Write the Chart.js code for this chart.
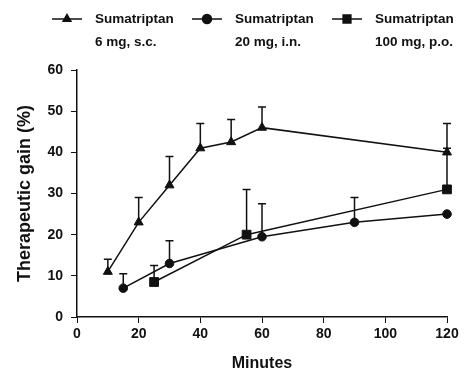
<!DOCTYPE html>
<html>
<head>
<meta charset="utf-8">
<script src="https://cdn.jsdelivr.net/npm/chart.js@4/dist/chart.umd.min.js"></script>
<style>
  html, body { margin: 0; padding: 0; background: #fff; }
  #wrap { width: 474px; height: 379px; }
</style>
</head>
<body>
<div id="wrap"><canvas id="gainChart" width="474" height="379"></canvas></div>
<script>
// Values (minutes vs therapeutic gain %)
const scMinutes = [10, 20, 30, 40, 50, 60, 120];
const scGain = [11, 23, 32, 41, 42.5, 46, 40];
const scUpper = [14, 29, 39, 47, 48, 51, 47];

const inMinutes = [15, 30, 60, 90, 120];
const inGain = [7, 13, 19.5, 23, 25];
const inUpper = [10.5, 18.5, 27.5, 29, null];

const poMinutes = [25, 55, 120];
const poGain = [8.5, 20, 31];
const poUpper = [12.5, 31, 41];

const seriesLabels = [
  ["Sumatriptan", "6 mg, s.c."],
  ["Sumatriptan", "20 mg, i.n."],
  ["Sumatriptan", "100 mg, p.o."],
];
const markerStyles = ["triangle", "circle", "rect"];

const FONT = "'Liberation Sans', Arial, sans-serif";
const INK = "#111";

const toPoints = (xs, ys) => xs.map((x, i) => ({ x: x, y: ys[i] }));

const makeSet = (label, xs, ys, upper, style, radius) => ({
  label: label.join(" "),
  data: toPoints(xs, ys),
  upper: upper,
  borderColor: INK,
  backgroundColor: INK,
  borderWidth: 1.5,
  pointStyle: style,
  pointRadius: radius,
  pointHoverRadius: radius,
  pointBorderWidth: 1,
  fill: false,
  tension: 0,
  clip: false,
});

// upward error bars with a cap
const errorBars = {
  id: "errorBars",
  beforeDatasetsDraw(chart) {
    const ctx = chart.ctx;
    const ys = chart.scales.y;
    const xs = chart.scales.x;
    ctx.save();
    ctx.strokeStyle = INK;
    ctx.lineWidth = 1.5;
    chart.data.datasets.forEach((ds) => {
      ds.data.forEach((p, i) => {
        const top = ds.upper[i];
        if (top == null) return;
        const px = xs.getPixelForValue(p.x);
        const py = ys.getPixelForValue(p.y);
        const pt = ys.getPixelForValue(top);
        ctx.beginPath();
        ctx.moveTo(px, py);
        ctx.lineTo(px, pt);
        ctx.moveTo(px - 4, pt);
        ctx.lineTo(px + 4, pt);
        ctx.stroke();
      });
    });
    ctx.restore();
  },
};

// two-line legend across the top
const topLegend = {
  id: "topLegend",
  afterDraw(chart) {
    const ctx = chart.ctx;
    const starts = [52, 192, 332];
    const sizes = [4.5, 4.5, 5.5];
    ctx.save();
    starts.forEach((x0, i) => {
      const y = 19;
      ctx.strokeStyle = INK;
      ctx.lineWidth = 1.5;
      ctx.beginPath();
      ctx.moveTo(x0, y);
      ctx.lineTo(x0 + 30, y);
      ctx.stroke();
      ctx.fillStyle = INK;
      Chart.helpers.drawPoint(ctx, {
        pointStyle: markerStyles[i],
        radius: sizes[i],
        borderWidth: 1,
      }, x0 + 15, y);
      ctx.fill();
      ctx.font = "bold 13.5px " + FONT;
      ctx.textBaseline = "middle";
      ctx.textAlign = "left";
      ctx.fillText(seriesLabels[i][0], x0 + 43, y);
      ctx.fillText(seriesLabels[i][1], x0 + 43, y + 23);
    });
    ctx.restore();
  },
};

new Chart(document.getElementById("gainChart").getContext("2d"), {
  type: "line",
  data: {
    datasets: [
      makeSet(seriesLabels[0], scMinutes, scGain, scUpper, "triangle", 5.2),
      makeSet(seriesLabels[1], inMinutes, inGain, inUpper, "circle", 4.3),
      makeSet(seriesLabels[2], poMinutes, poGain, poUpper, "rect", 6.2),
    ],
  },
  options: {
    responsive: false,
    animation: false,
    layout: { padding: { top: 70, right: 27, left: 0, bottom: 0 } },
    plugins: {
      legend: { display: false },
      tooltip: { enabled: false },
      title: { display: false },
    },
    scales: {
      x: {
        type: "linear",
        min: 0,
        max: 120,
        afterFit: (scale) => { scale.height = 62; },
        ticks: { stepSize: 20, color: INK, font: { family: FONT, size: 14, weight: "bold" }, padding: 3 },
        grid: { drawOnChartArea: false, tickLength: 6, color: INK, lineWidth: 1 },
        border: { color: INK, width: 1.5 },
        title: {
          display: true,
          text: "Minutes",
          color: INK,
          font: { family: FONT, size: 16, weight: "bold" },
          padding: { top: 0, bottom: 6 },
        },
      },
      y: {
        min: 0,
        max: 60,
        afterFit: (scale) => { scale.width = 77; },
        ticks: { stepSize: 10, color: INK, font: { family: FONT, size: 14, weight: "bold" }, padding: 8 },
        grid: { drawOnChartArea: false, tickLength: 6, color: INK, lineWidth: 1 },
        border: { color: INK, width: 1.5 },
        title: {
          display: true,
          text: "Therapeutic gain (%)",
          color: INK,
          font: { family: FONT, size: 18, weight: "bold" },
          padding: { top: 14, bottom: 0 },
        },
      },
    },
  },
  plugins: [errorBars, topLegend],
});
</script>
</body>
</html>
